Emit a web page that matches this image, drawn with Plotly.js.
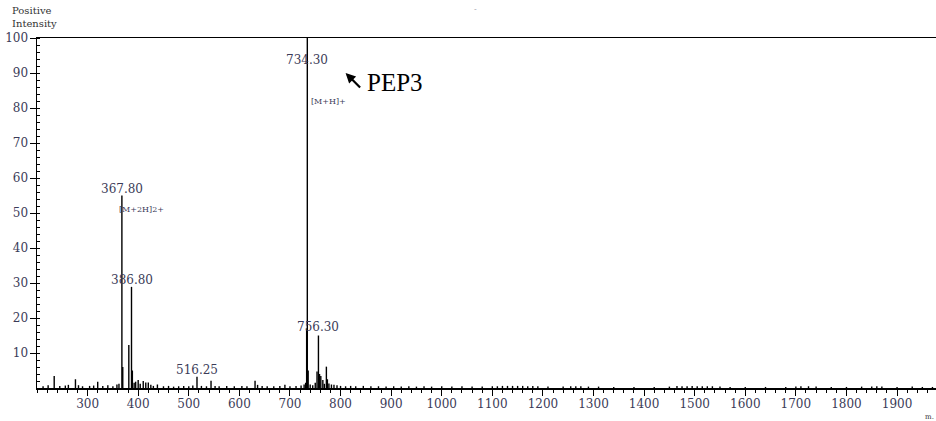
<!DOCTYPE html>
<html>
<head>
<meta charset="utf-8">
<script src="https://cdn.plot.ly/plotly-3.0.1.min.js"></script>
<style>html,body{margin:0;padding:0;background:#fff;}#chart{width:936px;height:421px;}</style>
</head>
<body>
<div id="chart"></div>
<script>
// Peak m/z values and relative intensities
const peakMz = [212,222,234,245,256,262,276,282,290,304,312,320,330,340,350,358,362,
  367.8,369.5,381.5,386.8,388.5,392,395,400,404,410,415,420,425,430,438,450,460,470,480,490,500,508,
  516.25,525,535,544,552,560,575,590,605,615,631,636,645,655,668,680,690,700,712,722,728,731,
  733,734.3,736,740,745,750,753.5,756.3,758.5,761,765,768,772,774,777,782,787,793,800,810,820,830,
  845,860,875,890,905,920,935,950,965,980,1000,1020,1040,1060,1080,1100,1110,1120,1130,1140,1150,
  1160,1170,1180,1190,1210,1240,1255,1265,1275,1290,1310,1340,1380,1420,1450,1465,1475,1485,1495,
  1505,1515,1525,1535,1550,1570,1600,1640,1680,1700,1710,1725,1740,1770,1800,1830,1850,1860,1870,
  1900,1930,1950,1970];
const peakInt = [0.5,0.8,3.4,0.6,0.7,0.9,2.5,0.8,0.5,0.6,0.7,1.8,0.6,0.8,0.5,1.0,1.2,
  55,6,12.3,28.9,5,1.5,1.8,2.3,1.2,2.0,1.6,1.6,0.9,0.6,1.0,0.5,0.6,0.4,0.5,0.6,0.5,0.7,
  3.2,0.6,0.5,2.1,0.6,0.5,0.6,0.5,0.6,0.5,2.1,0.9,0.6,0.5,0.5,0.6,0.9,0.5,0.6,0.7,1.0,1.5,
  17,100,5,1.0,0.8,1.5,4.7,15,4,3.4,2.3,1.2,6.1,2.5,1.3,1.0,0.9,0.8,0.6,0.5,0.6,0.5,
  0.6,0.5,0.5,0.4,0.5,0.4,0.5,0.4,0.5,0.4,0.5,0.4,0.5,0.4,0.4,0.5,0.5,0.6,0.6,0.6,0.6,
  0.6,0.5,0.6,0.5,0.4,0.4,0.5,0.5,0.5,0.4,0.4,0.3,0.3,0.3,0.4,0.6,0.5,0.5,0.6,
  0.5,0.5,0.5,0.5,0.4,0.3,0.3,0.3,0.3,0.4,0.5,0.5,0.4,0.3,0.3,0.4,0.4,0.5,0.4,
  0.3,0.4,0.3,0.3];

// Labelled peaks
const labelMz = [734.3, 367.8, 386.8, 516.25, 756.3];
const labelText = ["734.30", "367.80", "386.80", "516.25", "756.30"];
const labelY = [93.7, 56.9, 30.9, 5.1, 17.4];

const ionText = ["[M+H]+", "[M+2H]2+"];
const ionMz = [734.3, 367.8];
const ionY = [82, 50.9];

const xTicks = [300,400,500,600,700,800,900,1000,1100,1200,1300,1400,1500,1600,1700,1800,1900];
const yTicks = [10,20,30,40,50,60,70,80,90,100];

// Build stick spectrum
const sx = [], sy = [];
peakMz.forEach((m, i) => { sx.push(m, m, null); sy.push(0, peakInt[i], null); });

const serif = "DejaVu Serif, serif";
const times = "Liberation Serif, Times New Roman, serif";
const tickCol = "#3b3b58";

const annotations = [];
labelMz.forEach((m, i) => annotations.push({
  x: m, y: labelY[i], xref: "x", yref: "y", text: labelText[i], showarrow: false,
  xanchor: "center", yanchor: "middle", font: {family: serif, size: 12, color: tickCol}
}));
ionMz.forEach((m, i) => annotations.push({
  x: m, y: ionY[i], xref: "x", yref: "y", text: ionText[i], showarrow: false,
  xanchor: "left", yanchor: "middle", xshift: i === 0 ? 2 : -5,
  font: {family: serif, size: 8, color: tickCol}
}));
// PEP3 arrow
annotations.push({
  x: 810, y: 90, xref: "x", yref: "y", text: "", showarrow: true,
  ax: 16, ay: 16, arrowhead: 2, arrowsize: 0.9, arrowwidth: 2.2, arrowcolor: "#000"
});
annotations.push({
  x: 848, y: 87.4, xref: "x", yref: "y", text: "PEP3", showarrow: false,
  xanchor: "left", yanchor: "middle", font: {family: times, size: 25, color: "#000"}
});
annotations.push({
  x: -0.03, y: 1.1, xref: "paper", yref: "paper", text: "Positive<br>Intensity",
  showarrow: false, xanchor: "left", yanchor: "top", align: "left",
  font: {family: serif, size: 10, color: "#333"}
});
annotations.push({
  x: 0.488, y: 1.1, xref: "paper", yref: "paper", text: "-", showarrow: false,
  xanchor: "center", yanchor: "top", font: {family: serif, size: 8, color: "#99a"}
});
annotations.push({
  x: 1.0, y: -0.065, xref: "paper", yref: "paper", text: "m.", showarrow: false,
  xanchor: "right", yanchor: "top", font: {family: serif, size: 7, color: "#333"}
});

const data = [{
  x: sx, y: sy, type: "scatter", mode: "lines",
  line: {color: "#000", width: 1.4}, hoverinfo: "skip", showlegend: false
}];

const layout = {
  width: 936, height: 421,
  margin: {l: 37, r: 0, t: 38, b: 33},
  paper_bgcolor: "#fff", plot_bgcolor: "#fff",
  showlegend: false,
  xaxis: {
    range: [200, 1977], tickvals: xTicks, ticktext: xTicks.map(String),
    ticks: "outside", ticklen: 6, tickwidth: 1, tickcolor: "#000",
    showline: true, linecolor: "#000", linewidth: 1.5, mirror: true,
    showgrid: false, zeroline: false, ticklabelstandoff: -2,
    tickfont: {family: serif, size: 12, color: tickCol},
    minor: {dtick: 20, ticks: "outside", ticklen: 3, tickcolor: "#000", showgrid: false}
  },
  yaxis: {
    range: [0, 100], tickvals: yTicks, ticktext: yTicks.map(String),
    ticks: "outside", ticklen: 6, tickwidth: 1, tickcolor: "#000",
    showline: true, linecolor: "#000", linewidth: 1.5,
    showgrid: false, zeroline: false, ticklabelstandoff: -1,
    tickfont: {family: serif, size: 12, color: tickCol},
    minor: {dtick: 2, ticks: "inside", ticklen: 3, tickcolor: "#000", showgrid: false}
  },
  annotations: annotations
};

Plotly.newPlot("chart", data, layout, {staticPlot: true, displayModeBar: false});
</script>
</body>
</html>
